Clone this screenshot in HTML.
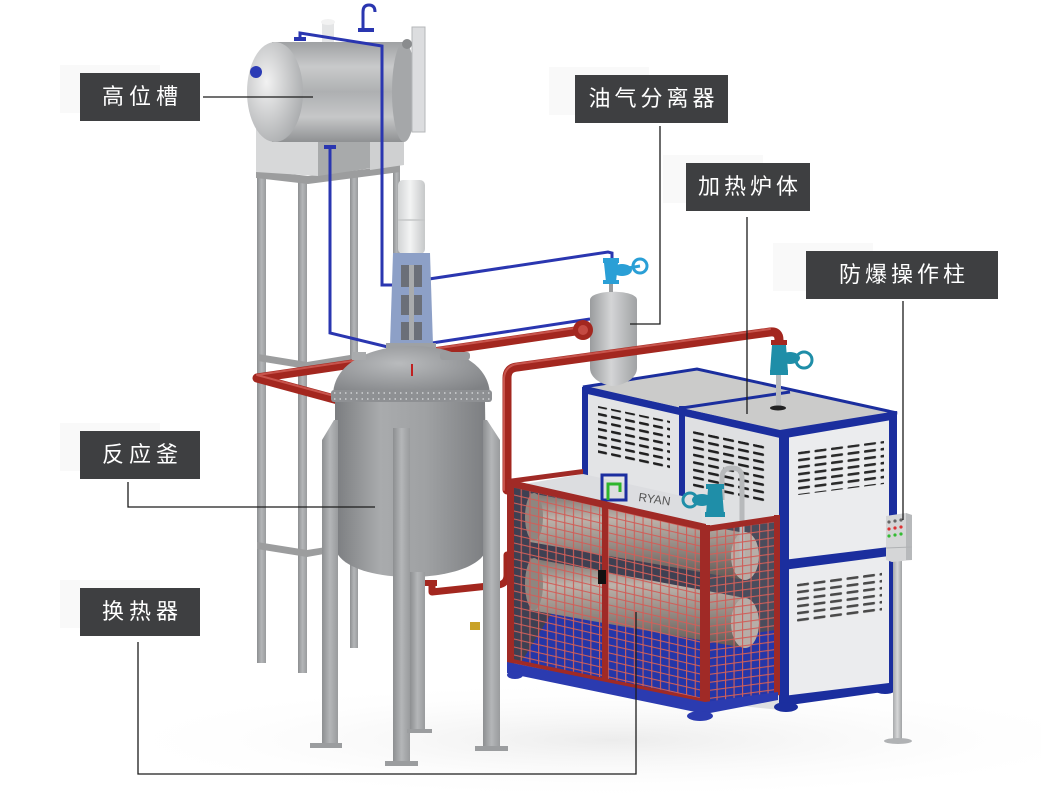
<!DOCTYPE html>
<html><head><meta charset="utf-8">
<style>
html,body{margin:0;padding:0;background:#fff;width:1041px;height:800px;overflow:hidden;}
#w{position:relative;width:1041px;height:800px;overflow:hidden;background:#fff;}
svg{position:absolute;left:0;top:0;display:block;}
.lb{position:absolute;background:#3e3f41;color:#fff;font-family:"Liberation Sans","Noto Sans CJK SC",sans-serif;font-size:22px;height:48px;line-height:48px;text-align:center;letter-spacing:4px;box-sizing:border-box;padding-left:4px;white-space:nowrap;}
.l3{letter-spacing:5px;padding-left:5px;}
.bk{position:absolute;background:#f9f9f9;width:100px;height:48px;}
</style></head><body><div id="w">
<div class="bk" style="left:60px;top:65px;"></div>
<div class="bk" style="left:549px;top:67px;"></div>
<div class="bk" style="left:663px;top:155px;"></div>
<div class="bk" style="left:773px;top:243px;"></div>
<div class="bk" style="left:60px;top:423px;"></div>
<div class="bk" style="left:60px;top:580px;"></div>
<svg width="1041" height="800" viewBox="0 0 1041 800" xmlns="http://www.w3.org/2000/svg">
<defs>
<radialGradient id="floor" cx="0.55" cy="0.5" r="0.5">
<stop offset="0" stop-color="#ececec"/><stop offset="1" stop-color="#ffffff" stop-opacity="0"/>
</radialGradient>
<linearGradient id="tank" x1="0" y1="0" x2="0" y2="1">
<stop offset="0" stop-color="#9fa1a3"/><stop offset="0.25" stop-color="#c9cacb"/><stop offset="0.5" stop-color="#aeb0b2"/><stop offset="0.75" stop-color="#c6c7c8"/><stop offset="1" stop-color="#8f9193"/>
</linearGradient>
<radialGradient id="cap" cx="0.35" cy="0.4" r="0.7">
<stop offset="0" stop-color="#f2f2f2"/><stop offset="1" stop-color="#a9abad"/>
</radialGradient>
<linearGradient id="rg" x1="0" y1="0" x2="1" y2="0">
<stop offset="0" stop-color="#7b7d80"/><stop offset="0.3" stop-color="#a9abad"/><stop offset="0.6" stop-color="#9fa1a3"/><stop offset="1" stop-color="#7c7e81"/>
</linearGradient>
<radialGradient id="dome" cx="0.42" cy="0.35" r="0.7">
<stop offset="0" stop-color="#b9bbbd"/><stop offset="1" stop-color="#808285"/>
</radialGradient>
<linearGradient id="leg" x1="0" y1="0" x2="1" y2="0">
<stop offset="0" stop-color="#8d8f91"/><stop offset="0.5" stop-color="#b4b6b8"/><stop offset="1" stop-color="#999b9d"/>
</linearGradient>
<linearGradient id="sep" x1="0" y1="0" x2="1" y2="0">
<stop offset="0" stop-color="#9a9c9e"/><stop offset="0.45" stop-color="#d4d5d6"/><stop offset="1" stop-color="#a0a2a4"/>
</linearGradient>
<linearGradient id="motor" x1="0" y1="0" x2="1" y2="0">
<stop offset="0" stop-color="#d2d4d5"/><stop offset="0.45" stop-color="#f3f4f4"/><stop offset="1" stop-color="#c6c8c9"/>
</linearGradient>
<linearGradient id="hx" x1="0" y1="0" x2="0" y2="1">
<stop offset="0" stop-color="#7c746f"/><stop offset="0.3" stop-color="#bdb3ab"/><stop offset="0.6" stop-color="#968c85"/><stop offset="1" stop-color="#5f5854"/>
</linearGradient>
<linearGradient id="pole" x1="0" y1="0" x2="1" y2="0">
<stop offset="0" stop-color="#a7a9ab"/><stop offset="0.5" stop-color="#d6d7d8"/><stop offset="1" stop-color="#a0a2a4"/>
</linearGradient>
<pattern id="vf" width="14" height="7.5" patternUnits="userSpaceOnUse" patternTransform="translate(597,405) skewY(12)">
<rect x="0" y="0" width="10" height="2.6" rx="1" fill="#202020"/>
</pattern>
<pattern id="vm" width="15" height="7.5" patternUnits="userSpaceOnUse" patternTransform="translate(693,431) skewY(12)">
<rect x="0" y="0" width="11" height="2.6" rx="1" fill="#202020"/>
</pattern>
<pattern id="vr" width="16.5" height="7" patternUnits="userSpaceOnUse" patternTransform="translate(798,452) skewY(-7.5)">
<rect x="0" y="0" width="12" height="2.6" rx="1" fill="#2a2a2a"/>
</pattern>
<pattern id="vr2" width="16.5" height="7" patternUnits="userSpaceOnUse" patternTransform="translate(797,584) skewY(-7.5)">
<rect x="0" y="0" width="12" height="2.6" rx="1" fill="#4a4a4a"/>
</pattern>
<pattern id="gf" width="8.7" height="8" patternUnits="userSpaceOnUse" patternTransform="translate(512,486) skewY(13)">
<rect x="0" y="0" width="1.1" height="8" fill="#cf5f59"/>
<rect x="0" y="0" width="8.7" height="1.1" fill="#cf5f59"/>
</pattern>
<pattern id="gs" width="8.5" height="8" patternUnits="userSpaceOnUse" patternTransform="translate(708,530) skewY(-7.6)">
<rect x="0" y="0" width="1.1" height="8" fill="#cf5f59"/>
<rect x="0" y="0" width="8.5" height="1.1" fill="#cf5f59"/>
</pattern>
</defs>

<!-- floor -->
<ellipse cx="560" cy="740" rx="520" ry="60" fill="url(#floor)"/>

<!-- stand -->
<g fill="url(#leg)">
<rect x="257" y="172" width="9" height="491"/>
<rect x="298" y="178" width="9" height="495"/>
<rect x="350" y="176" width="8" height="472"/>
<rect x="393" y="168" width="7" height="190"/>
</g>
<g fill="#9c9d9e">
<polygon points="256,170 308,176 400,165 400,172 308,184 256,178"/>
<polygon points="258,354 307,362 350,355 350,361 307,369 258,361"/>
<polygon points="257,542 307,550 352,543 352,549 307,557 257,549"/>
</g>

<!-- high tank -->
<polygon points="256,128 318,128 318,176 256,172" fill="#d7d8d9"/>
<polygon points="318,132 372,132 372,168 318,176" fill="#a8aaab"/>
<polygon points="370,128 404,122 404,165 370,170" fill="#cfd0d1"/>
<rect x="272" y="42" width="132" height="100" fill="url(#tank)"/>
<ellipse cx="404" cy="92" rx="12" ry="50" fill="#a5a7a9"/>
<ellipse cx="275" cy="92" rx="28" ry="50" fill="url(#cap)"/>
<rect x="322" y="22" width="12" height="20" fill="#e4e5e6"/>
<ellipse cx="328" cy="22" rx="7" ry="3" fill="#f2f2f2"/>
<rect x="412" y="27" width="13" height="105" fill="#dcdddf" stroke="#b5b7b9" stroke-width="1"/>
<circle cx="407" cy="44" r="5" fill="#8a8c8e"/>
<circle cx="256" cy="72" r="6" fill="#2b3bb5"/>

<!-- blue pipes -->
<g fill="none" stroke="#2a36b0" stroke-width="3">
<path d="M363,30 L363,12 Q363,5 369,5 Q375,5 375,12"/>
<path d="M300,38 L300,33 L382,46 L382,285 L398,285"/>
<path d="M330,146 L330,333 L392,348"/>
<path d="M429,279 L608,252 L612,253 L612,258"/>
<path d="M432,343 L590,319"/>
</g>
<g fill="#2a36b0">
<rect x="358" y="28" width="16" height="4"/>
<rect x="294" y="37" width="12" height="4"/>
<rect x="324" y="145" width="12" height="4"/>
</g>

<!-- red pipe P1 (behind) -->
<g fill="none" stroke-linecap="round" stroke-linejoin="round">
<path d="M582,330 L257,378 L338,400" stroke="#a3271f" stroke-width="9"/>
<path d="M582,327 L257,375 L338,397" stroke="#c8544c" stroke-width="2"/>
</g>

<!-- furnace -->
<polygon points="583,387 697,369 897,413 780,432" fill="#cbcbca"/>
<polygon points="583,387 682,408 682,540 583,520" fill="#e3e4e6"/>
<polygon points="682,408 780,432 780,710 682,700" fill="#dfe0e2"/>
<polygon points="780,432 897,413 897,688 780,706" fill="#ebecee"/>
<g fill="none" stroke="#1b2e9e" stroke-width="3">
<polygon points="583,387 697,369 897,413 780,432"/>
<line x1="682" y1="408" x2="790" y2="392"/>
</g>
<g fill="#1b2e9e">
<rect x="582" y="387" width="6" height="135"/>
<rect x="679" y="406" width="6" height="300"/>
<rect x="779" y="430" width="10" height="278"/>
<rect x="889" y="412" width="8" height="278"/>
<polygon points="583,386 780,430 780,438 583,393"/>
<polygon points="780,430 897,411 897,419 780,439"/>
<polygon points="783,560 897,546 897,555 783,570"/>
<polygon points="783,696 897,682 897,690 783,706"/>
<ellipse cx="786" cy="707" rx="12" ry="5"/>
<ellipse cx="885" cy="690" rx="10" ry="4"/>
</g>
<polygon points="598,406 670,421 670,472 598,457" fill="url(#vf)"/>
<polygon points="693,431 768,447 768,506 693,490" fill="url(#vm)"/>
<polygon points="798,452 884,441 884,484 798,495" fill="url(#vr)"/>
<polygon points="797,584 882,572 882,612 797,624" fill="url(#vr2)"/>
<!-- furnace top valve & stem -->
<rect x="776" y="375" width="5" height="32" fill="#b9bbbd"/>
<ellipse cx="778" cy="408" rx="8" ry="2.5" fill="#222"/>

<!-- separator -->
<path d="M590,300 C590,289 637,289 637,300 L637,368 C637,380 620,386 613,386 C606,386 590,380 590,368 Z" fill="url(#sep)"/>
<rect x="609" y="280" width="4" height="12" fill="#9a9c9e"/>
<g fill="#2a9fd6">
<rect x="603" y="258" width="16" height="5"/>
<path d="M604,263 L618,263 L616,282 L606,282 Z"/>
<ellipse cx="622" cy="270" rx="10" ry="6"/>
<rect x="603" y="280" width="16" height="4"/>
</g>
<circle cx="640" cy="266" r="7" fill="none" stroke="#2a9fd6" stroke-width="3"/>
<line x1="628" y1="268" x2="640" y2="266" stroke="#2a9fd6" stroke-width="3"/>
<circle cx="583" cy="330" r="10" fill="#a3271f"/>
<circle cx="583" cy="330" r="5" fill="#c44a42"/>

<!-- red pipe P2 -->
<g fill="none" stroke-linecap="round" stroke-linejoin="round">
<path d="M507,490 L507,378 Q507,368 517,367 L770,332 Q779,331 779,340 L779,343" stroke="#a3271f" stroke-width="9"/>
<path d="M504,490 L504,378 Q505,366 517,364 L770,329" stroke="#c8544c" stroke-width="2"/>
<path d="M432,586 L432,592 L498,585 Q507,584 507,575 L507,555" stroke="#a3271f" stroke-width="7"/>
</g>
<!-- furnace valve -->
<rect x="771" y="340" width="16" height="5" fill="#a3271f"/>
<g fill="#1f8ea8">
<path d="M772,345 L786,345 L788,372 L770,372 Z"/>
<ellipse cx="790" cy="358" rx="10" ry="6"/>
<rect x="770" y="370" width="18" height="5"/>
</g>
<circle cx="804" cy="360" r="8" fill="none" stroke="#1f8ea8" stroke-width="3"/>

<!-- agitator -->
<rect x="398" y="180" width="27" height="74" rx="5" fill="url(#motor)"/>
<line x1="398" y1="220" x2="425" y2="220" stroke="#c5c7c8" stroke-width="1.5"/>
<polygon points="393,253 430,253 433,345 390,345" fill="#8da0c7"/>
<g fill="#6b6f78">
<rect x="401" y="265" width="21" height="22"/>
<rect x="401" y="295" width="21" height="20"/>
<rect x="401" y="322" width="21" height="18"/>
</g>
<rect x="409" y="265" width="5" height="75" fill="#a9abad"/>
<rect x="386" y="343" width="50" height="6" fill="#9ea1a4"/>

<!-- reactor -->
<path d="M333,396 C333,362 372,346 412,346 C452,346 490,362 490,396 Z" fill="url(#dome)"/>
<rect x="352" y="352" width="14" height="8" fill="#a9abad"/>
<rect x="440" y="352" width="30" height="8" rx="3" fill="#9a9c9e"/>
<line x1="412" y1="364" x2="412" y2="376" stroke="#c02020" stroke-width="2"/>
<path d="M335,402 L485,402 L487,545 C487,565 450,577 410,577 C370,577 335,565 335,545 Z" fill="url(#rg)"/>
<rect x="331" y="390" width="161" height="12" rx="3" fill="#8e9093"/>
<line x1="334" y1="393" x2="490" y2="393" stroke="#cfd1d3" stroke-width="1.5" stroke-dasharray="1.5,4"/>
<line x1="334" y1="399" x2="490" y2="399" stroke="#cfd1d3" stroke-width="1.5" stroke-dasharray="1.5,4"/>
<rect x="425" y="580" width="12" height="6" fill="#a3271f"/>
<!-- legs -->
<g fill="url(#leg)">
<rect x="410" y="572" width="15" height="160"/>
<polygon points="322,440 334,420 338,420 338,745 322,745"/>
<rect x="393" y="428" width="17" height="336"/>
<polygon points="483,420 487,420 500,440 500,748 483,748"/>
</g>
<g fill="#9b9d9f">
<rect x="310" y="743" width="32" height="5"/>
<rect x="385" y="761" width="33" height="5"/>
<rect x="475" y="746" width="33" height="5"/>
<rect x="407" y="729" width="25" height="4"/>
</g>
<rect x="470" y="622" width="10" height="8" fill="#c9a227"/>

<!-- cage interior -->
<polygon points="512,486 703,530 703,702 512,664" fill="#3f4052"/>
<polygon points="708,530 776,520 776,693 708,702" fill="#4a4c5c"/>
<polygon points="512,486 583,474 700,500 703,530" fill="#dcdde0"/>
<polygon points="560,600 703,640 703,702 520,664" fill="#2536a8"/>
<polygon points="708,640 776,630 776,693 708,702" fill="#2536a8"/>
<g fill="url(#hx)">
<polygon points="530,493 745,533 745,580 530,542"/>
<polygon points="530,558 745,598 745,648 530,610"/>
</g>
<ellipse cx="745" cy="556" rx="14" ry="24" fill="#b7aea8"/>
<ellipse cx="745" cy="623" rx="14" ry="25" fill="#b7aea8"/>
<ellipse cx="534" cy="517" rx="9" ry="24" fill="#8f8680"/>
<ellipse cx="534" cy="584" rx="9" ry="26" fill="#8f8680"/>
<!-- logo -->
<rect x="602" y="475" width="24" height="25" fill="none" stroke="#1c2ea0" stroke-width="3"/>
<path d="M608,500 L608,484 L620,484 L620,492" fill="none" stroke="#2db52d" stroke-width="3"/>
<text x="638" y="501" font-family="Liberation Sans, sans-serif" font-size="12" fill="#555" transform="rotate(8 638 501)">RYAN</text>
<!-- inner valve + pipe -->
<path d="M722,500 L722,478 Q722,468 732,468 Q742,468 742,478 L742,560" fill="none" stroke="#b7b9bb" stroke-width="5"/>
<g fill="#1f8ea8">
<rect x="706" y="484" width="18" height="5"/>
<path d="M708,489 L722,489 L724,514 L706,514 Z"/>
<ellipse cx="702" cy="500" rx="10" ry="6"/>
<rect x="705" y="512" width="20" height="5"/>
</g>
<circle cx="690" cy="500" r="7" fill="none" stroke="#1f8ea8" stroke-width="3"/>

<!-- cage grid -->
<polygon points="512,486 703,530 703,702 512,664" fill="url(#gf)"/>
<polygon points="708,530 776,520 776,693 708,702" fill="url(#gs)"/>
<g fill="#a02a26">
<polygon points="507,480 514,480 514,668 507,666"/>
<polygon points="507,479 706,524 706,531 507,486"/>
<polygon points="700,525 710,525 710,706 700,704"/>
<polygon points="706,526 780,515 780,521 706,532"/>
<polygon points="774,515 780,515 780,695 774,696"/>
<polygon points="508,479 583,469 583,474 508,484"/>
<polygon points="602,502 608,503 608,690 602,689"/>
<polygon points="508,658 705,699 705,703 508,662"/>
</g>
<rect x="598" y="570" width="8" height="14" fill="#111"/>
<g fill="#2b3bb0">
<polygon points="507,662 705,702 778,692 778,700 705,714 507,673"/>
<ellipse cx="515" cy="675" rx="8" ry="4"/>
<ellipse cx="700" cy="716" rx="13" ry="5"/>
</g>

<!-- operation column -->
<rect x="893" y="558" width="9" height="182" fill="url(#pole)"/>
<ellipse cx="898" cy="741" rx="14" ry="3" fill="#b0b2b4"/>
<polygon points="886,516 906,513 912,515 912,560 892,562 886,560" fill="#d5d6d7"/>
<polygon points="906,513 912,515 912,560 906,560" fill="#b7b9bb"/>
<line x1="886" y1="548" x2="912" y2="547" stroke="#b0b2b4" stroke-width="1"/>
<g>
<circle cx="889" cy="522" r="1.6" fill="#666"/><circle cx="895" cy="521" r="1.6" fill="#666"/><circle cx="901" cy="520" r="1.6" fill="#666"/>
<circle cx="889" cy="529" r="1.6" fill="#d33"/><circle cx="895" cy="528" r="1.6" fill="#d33"/><circle cx="901" cy="527" r="1.6" fill="#d33"/>
<circle cx="889" cy="536" r="1.6" fill="#3b3"/><circle cx="895" cy="535" r="1.6" fill="#3b3"/><circle cx="901" cy="534" r="1.6" fill="#3b3"/>
</g>

<!-- leader lines -->
<g fill="none" stroke="#1c1c1c" stroke-width="1.3">
<path d="M203,97 L313,97"/>
<path d="M660,126 L660,324 L630,324"/>
<path d="M747,217 L747,414"/>
<path d="M903,301 L903,520"/>
<path d="M128,482 L128,507 L375,507"/>
<path d="M138,642 L138,774 L636,774 L636,612"/>
</g>
</svg>
<div class="lb l3" style="left:80px;top:73px;width:120px;">高位槽</div>
<div class="lb" style="left:575px;top:75px;width:153px;">油气分离器</div>
<div class="lb" style="left:686px;top:163px;width:124px;">加热炉体</div>
<div class="lb" style="left:806px;top:251px;width:192px;">防爆操作柱</div>
<div class="lb l3" style="left:80px;top:431px;width:120px;">反应釜</div>
<div class="lb l3" style="left:80px;top:588px;width:120px;">换热器</div>
</div></body></html>
